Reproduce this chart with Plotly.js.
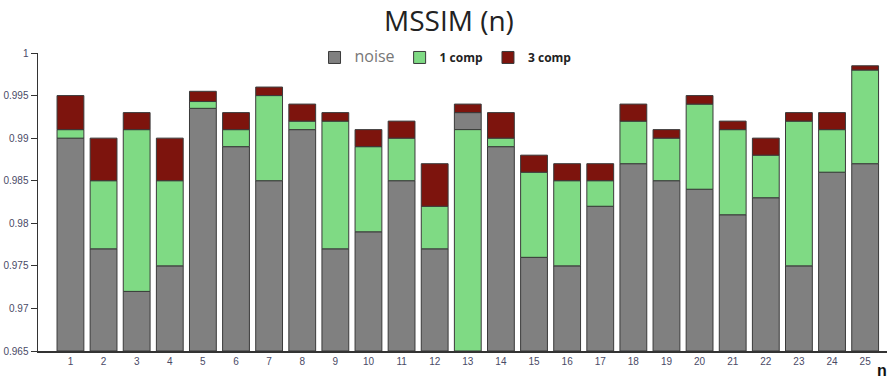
<!DOCTYPE html>
<html>
<head>
<meta charset="utf-8">
<script src="https://cdn.plot.ly/plotly-3.0.1.min.js"></script>
<style>html,body{margin:0;padding:0;background:#fff;}#chart{width:889px;height:379px;}</style>
</head>
<body>
<div id="chart"></div>
<script>
const categories = [1,2,3,4,5,6,7,8,9,10,11,12,13,14,15,16,17,18,19,20,21,22,23,24,25];
const noise = [0.990,0.977,0.972,0.975,0.9935,0.989,0.985,0.991,0.977,0.979,0.985,0.977,0.993,0.989,0.976,0.975,0.982,0.987,0.985,0.984,0.981,0.983,0.975,0.986,0.987];
const comp1 = [0.991,0.985,0.991,0.985,0.9943,0.991,0.995,0.992,0.992,0.989,0.990,0.982,0.991,0.990,0.986,0.985,0.985,0.992,0.990,0.994,0.991,0.988,0.992,0.991,0.998];
const comp3 = [0.995,0.990,0.993,0.990,0.9955,0.993,0.996,0.994,0.993,0.991,0.992,0.987,0.994,0.993,0.988,0.987,0.987,0.994,0.991,0.995,0.992,0.990,0.993,0.993,0.9985];
const yFloor = 0.965;

const seriesList = [noise, comp1, comp3];
function segBase(idx) {
  return categories.map((c, i) => {
    const v = seriesList[idx][i];
    let b = yFloor;
    seriesList.forEach((s, j) => { if (j !== idx && s[i] < v && s[i] > b) b = s[i]; });
    return b;
  });
}
function segHeight(idx) {
  const b = segBase(idx);
  return seriesList[idx].map((v, i) => v - b[i]);
}

const line = {color: '#3a3a3a', width: 1};
const traces = [
  {type: 'bar', x: categories, y: segHeight(0), base: segBase(0), name: '<span style="font-size:16px;color:#777;font-family:Open Sans">noise</span>', marker: {color: '#808080', line: line}},
  {type: 'bar', x: categories, y: segHeight(1), base: segBase(1), name: '<b>1 comp</b>', marker: {color: '#7fda84', line: line}},
  {type: 'bar', x: categories, y: segHeight(2), base: segBase(2), name: '<b>3 comp</b>', marker: {color: '#7d140d', line: line}}
];

const layout = {
  width: 889, height: 379,
  margin: {l: 38, r: 2, t: 53, b: 28},
  paper_bgcolor: '#fff', plot_bgcolor: '#fff',
  barmode: 'overlay', bargap: 0.19,
  showlegend: true,
  title: {text: 'MSSIM (n)', x: 0.505, xanchor: 'center', y: 0.945, yanchor: 'middle', font: {family: 'Open Sans, sans-serif', size: 28, color: '#222'}},
  legend: {orientation: 'h', x: 0.48, xanchor: 'center', y: 0.985, yanchor: 'middle', font: {family: 'Open Sans, sans-serif', size: 12, color: '#222'}, bgcolor: 'rgba(0,0,0,0)', itemclick: false, traceorder: 'normal', itemwidth: 30},
  xaxis: {range: [0.02, 25.66], tickvals: categories, ticktext: categories.map(String), showgrid: false, zeroline: false, showline: true, linecolor: '#333', linewidth: 1.5, ticks: '', tickfont: {family: 'Liberation Sans, Arial, sans-serif', size: 10, color: '#4a4a66'}},
  yaxis: {range: [0.965, 1.0], tickvals: [0.965,0.97,0.975,0.98,0.985,0.99,0.995,1], ticktext: ['0.965','0.97','0.975','0.98','0.985','0.99','0.995','1'], showgrid: false, zeroline: false, showline: true, linecolor: '#333', linewidth: 1.5, ticks: 'outside', ticklen: 6, tickcolor: '#333', tickfont: {family: 'Liberation Sans, Arial, sans-serif', size: 10, color: '#4a4a66'}},
  annotations: [{text: '<b>n</b>', xref: 'paper', yref: 'paper', x: 0.986, y: 0, xanchor: 'left', yanchor: 'middle', yshift: -19, showarrow: false, font: {family: 'Liberation Sans, Arial, sans-serif', size: 16, color: '#111'}}]
};

Plotly.newPlot('chart', traces, layout, {displayModeBar: false, staticPlot: true});
</script>
</body>
</html>
